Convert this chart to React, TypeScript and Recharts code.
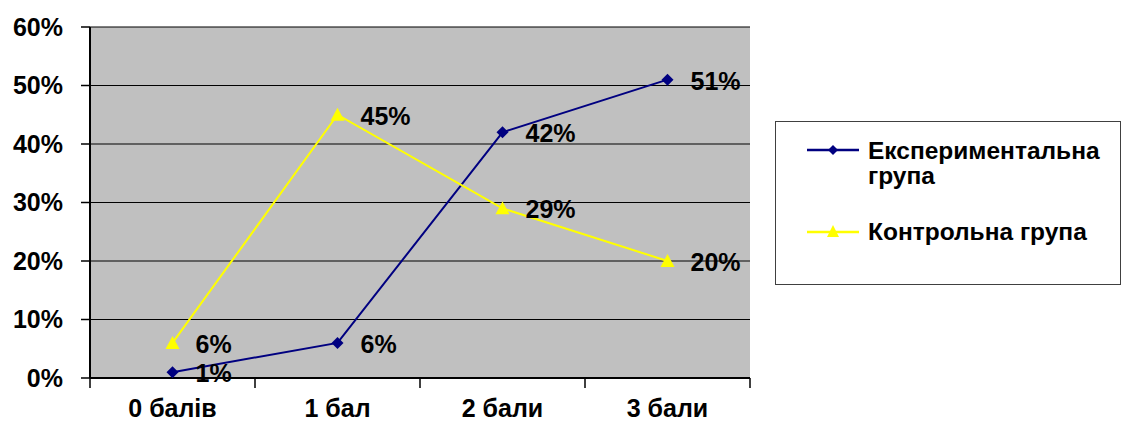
import React from "react";
import {
  LineChart,
  Line,
  XAxis,
  YAxis,
  CartesianGrid,
  LabelList,
} from "recharts";

const categories = ["0 балів", "1 бал", "2 бали", "3 бали"];
const experimental = [1, 6, 42, 51];
const control = [6, 45, 29, 20];
const yTicks = [0, 10, 20, 30, 40, 50, 60];
const seriesNames = ["Експериментальна група", "Контрольна група"];

const data = categories.map((name, i) => ({
  name,
  exp: experimental[i],
  ctrl: control[i],
}));

const FONT = '"Liberation Sans", Arial, sans-serif';
const NAVY = "#000080";
const YELLOW = "#FFFF00";

const PLOT_W = 660;
const HALF_BAND = PLOT_W / categories.length / 2;

const Diamond = (props: any) => {
  const { cx, cy, index } = props;
  if (cx == null || cy == null) return null;
  return (
    <path
      key={`dm-${index}`}
      d={`M${cx},${cy - 6}L${cx + 6},${cy}L${cx},${cy + 6}L${cx - 6},${cy}Z`}
      fill={NAVY}
    />
  );
};

const Triangle = (props: any) => {
  const { cx, cy, index } = props;
  if (cx == null || cy == null) return null;
  return (
    <path
      key={`tr-${index}`}
      d={`M${cx},${cy - 7}L${cx + 7},${cy + 6}L${cx - 7},${cy + 6}Z`}
      fill={YELLOW}
    />
  );
};

const XTick = (props: any) => {
  const { x, y, payload, index } = props;
  const last = index === categories.length - 1;
  return (
    <g>
      <line x1={x - HALF_BAND} y1={y} x2={x - HALF_BAND} y2={y + 10} stroke="#000" strokeWidth={1.5} />
      {last && (
        <line x1={x + HALF_BAND} y1={y} x2={x + HALF_BAND} y2={y + 10} stroke="#000" strokeWidth={1.5} />
      )}
      <text
        x={x}
        y={y + 39}
        textAnchor="middle"
        fontFamily={FONT}
        fontWeight="bold"
        fontSize={25}
        fill="#000"
      >
        {payload.value}
      </text>
    </g>
  );
};

const pointLabel = (props: any) => {
  const { x, y, value } = props;
  return (
    <text
      x={x + 23}
      y={y + 10}
      fontFamily={FONT}
      fontWeight="bold"
      fontSize={25}
      fill="#000"
    >
      {value}%
    </text>
  );
};

const LegendBox = () => {
  const swatch = (color: string, marker: "diamond" | "triangle") => (
    <svg width={54} height={16} style={{ position: "absolute", left: 31, top: -8 }}>
      <line x1={0} y1={8} x2={52} y2={8} stroke={color} strokeWidth={2.5} />
      {marker === "diamond" ? (
        <path d="M26,3L31,8L26,13L21,8Z" fill={color} />
      ) : (
        <path d="M26,1L32,13L20,13Z" fill={color} />
      )}
    </svg>
  );
  const textStyle: React.CSSProperties = {
    position: "absolute",
    left: 92,
    width: 250,
    fontFamily: FONT,
    fontWeight: "bold",
    fontSize: 24.5,
    lineHeight: "25px",
    color: "#000",
  };
  return (
    <div
      style={{
        position: "absolute",
        left: 775,
        top: 121,
        width: 346,
        height: 164,
        border: "1.5px solid #404040",
        boxSizing: "border-box",
        background: "#fff",
      }}
    >
      <div style={{ position: "absolute", left: 0, top: 28 }}>{swatch(NAVY, "diamond")}</div>
      <div style={{ ...textStyle, top: 16 }}>{seriesNames[0]}</div>
      <div style={{ position: "absolute", left: 0, top: 110 }}>{swatch(YELLOW, "triangle")}</div>
      <div style={{ ...textStyle, top: 97 }}>{seriesNames[1]}</div>
    </div>
  );
};

export default function App() {
  return (
    <div style={{ position: "absolute", left: 0, top: 0, width: 1121, height: 423, background: "#fff" }}>
      <LineChart
        width={1121}
        height={423}
        data={data}
        margin={{ top: 27, right: 371, bottom: 0, left: 0 }}
      >
        <CartesianGrid
          vertical={false}
          stroke="#000"
          strokeWidth={1.2}
          fill="#C0C0C0"
          fillOpacity={1}
        />
        <XAxis
          dataKey="name"
          height={45}
          padding={{ left: HALF_BAND, right: HALF_BAND }}
          axisLine={{ stroke: "#000", strokeWidth: 2 }}
          tickLine={false}
          tickSize={0}
          tickMargin={0}
          tick={<XTick />}
          interval={0}
        />
        <YAxis
          width={90}
          domain={[0, 60]}
          ticks={yTicks}
          interval={0}
          tickFormatter={(v: number) => `${v}%`}
          axisLine={{ stroke: "#000", strokeWidth: 2 }}
          tickLine={{ stroke: "#000", strokeWidth: 1.5 }}
          tickSize={9}
          tickMargin={18}
          tick={{ fill: "#000", fontFamily: FONT, fontWeight: "bold", fontSize: 25 }}
        />
        <YAxis
          yAxisId="right"
          orientation="right"
          width={0}
          domain={[0, 60]}
          tick={false}
          tickLine={false}
          axisLine={{ stroke: "#808080", strokeWidth: 2 }}
        />
        <Line
          dataKey="exp"
          name={seriesNames[0]}
          stroke={NAVY}
          strokeWidth={2}
          dot={<Diamond />}
          activeDot={false}
          isAnimationActive={false}
        >
          <LabelList dataKey="exp" content={pointLabel} />
        </Line>
        <Line
          dataKey="ctrl"
          name={seriesNames[1]}
          stroke={YELLOW}
          strokeWidth={2}
          dot={<Triangle />}
          activeDot={false}
          isAnimationActive={false}
        >
          <LabelList dataKey="ctrl" content={pointLabel} />
        </Line>
      </LineChart>
      <LegendBox />
    </div>
  );
}
